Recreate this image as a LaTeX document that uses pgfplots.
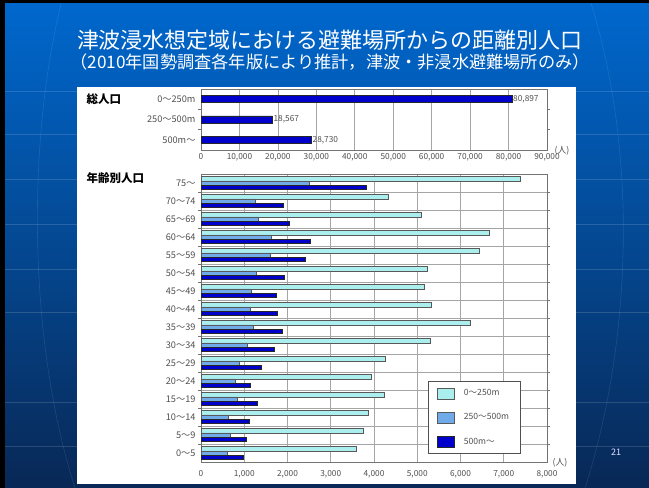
\documentclass[border=0pt]{standalone}
\usepackage{fontspec}
\usepackage{pgfplots}
\pgfplotsset{compat=1.18}
\usepackage{pgfplotstable}
\newfontfamily\jp{Noto Sans CJK JP}

\definecolor{slidetop}{RGB}{0,104,206}
\definecolor{slidebot}{RGB}{8,40,86}
\definecolor{near}{RGB}{170,238,238}
\definecolor{mid}{RGB}{112,170,232}
\definecolor{far}{RGB}{0,0,205}
\definecolor{gridgray}{RGB}{165,165,165}
\definecolor{framegray}{RGB}{115,115,115}
\definecolor{labelgray}{RGB}{80,80,80}

% population by age band and distance to the nearest shelter
\pgfplotstableread{
idx near mid far
0  3592  609  979
1  3753  671 1056
2  3861  632 1118
3  4231  848 1310
4  3931  802 1133
5  4254  887 1387
6  5303 1079 1696
7  6220 1218 1881
8  5318 1133 1773
9  5164 1156 1749
10 5225 1287 1919
11 6435 1595 2413
12 6667 1634 2536
13 5087 1326 2035
14 4331 1264 1904
15 7376 2505 3815
}\agedata

\pgfplotsset{
  swatch/.style={legend image code/.code={\draw[##1] (0pt,-5.5pt) rectangle (17pt,5.5pt);}},
  panel/.style={
    scale only axis, width=346pt, xmin=0,
    axis line style={framegray, line width=0.8pt},
    xmajorgrids,
    major grid style={gridgray, line width=0.6pt},
    minor grid style={gridgray, line width=0.6pt},
    major tick length=0pt, minor tick length=3pt, tick align=outside,
    minor tick style={framegray, line width=0.6pt},
    scaled x ticks=false,
    xticklabel style={font=\jp\fontsize{8.3}{9}\selectfont, text=labelgray},
    yticklabel style={font=\jp\fontsize{9.2}{10}\selectfont, text=labelgray, xshift=-2pt},
    /pgf/number format/1000 sep={,},
    /pgf/number format/assume math mode=true,
  },
}

\begin{document}
\jp
\begin{tikzpicture}[x=1pt,y=1pt]
\useasboundingbox (0,0) rectangle (649,488);
% slide background
\shade[top color=slidetop, bottom color=slidebot] (0,0) rectangle (649,488);
\foreach \yy in {92,135,180,225,270,313,403,447}
  \draw[white, opacity=0.14, line width=1pt] (0,{488-\yy}) -- (649,{488-\yy});
\draw[white, opacity=0.10, line width=0.6pt] (62,488) .. controls (25,340) and (30,140) .. (75,0);
\draw[white, opacity=0.10, line width=0.6pt] (590,488) .. controls (640,330) and (630,140) .. (585,0);
\fill[black] (0,0) rectangle (5,488);
\fill[black] (0,485) rectangle (649,488);

% titles
\node[text=white, font=\jp\fontsize{22}{24}\selectfont] at (330,448) {津波浸水想定域における避難場所からの距離別人口};
\node[text=white, font=\jp\fontsize{17.2}{19}\selectfont] at (330,426) {（2010年国勢調査各年版により推計，津波・非浸水避難場所のみ）};

% chart panel
\fill[white] (77,4) rectangle (576,401);
\node[anchor=west, font=\jp\bfseries\fontsize{11.5}{13}\selectfont] at (83,389) {総人口};
\node[anchor=west, font=\jp\bfseries\fontsize{11.5}{13}\selectfont] at (83,310) {年齢別人口};

% totals by distance
\begin{axis}[panel, at={(201pt,338pt)}, anchor=south west, height=61pt,
  xmax=90000, xtick={0,10000,...,90000},
  ymin=-0.5, ymax=2.5,
  ytick={0,1,2}, yticklabels={500m〜,250〜500m,0〜250m},
  minor ytick={0.5,1.5},
  xbar, bar width=7pt,
  nodes near coords,
  nodes near coords style={font=\jp\fontsize{8.3}{9}\selectfont, text=labelgray, anchor=west, inner sep=1pt},
]
\addplot[fill=far, draw=black!85, line width=0.5pt] coordinates {(80897,2) (18567,1) (28730,0)};
\end{axis}
\node[anchor=west, font=\jp\fontsize{8.8}{10}\selectfont, text=labelgray] at (551,337.5) {(人)};

% population by age band
\begin{axis}[panel, at={(201pt,26pt)}, anchor=south west, height=288pt,
  xmax=8000, xtick={0,1000,...,8000},
  xticklabel style={yshift=-5pt},
  ymin=-0.5, ymax=15.5,
  ytick={0,...,15},
  yticklabels={0〜5,5〜9,10〜14,15〜19,20〜24,25〜29,30〜34,35〜39,40〜44,45〜49,50〜54,55〜59,60〜64,65〜69,70〜74,75〜},
  minor ytick={0.5,1.5,...,14.5}, yminorgrids,
  xbar, bar width=4.3pt,
  legend cell align=left,
  legend style={at={(0.656,0.281)}, anchor=north west,
    draw=framegray!70!black, line width=0.8pt, fill=white,
    font=\jp\fontsize{8.6}{10}\selectfont, text=labelgray,
    row sep=12.5pt, inner xsep=9pt, inner ysep=6pt,
    /tikz/every odd column/.append style={column sep=7pt}},
]
\addplot[swatch, fill=near, draw=black!65, line width=0.5pt, bar shift=4.3pt] table[x=near, y=idx] {\agedata};
\addplot[swatch, fill=mid, draw=black!65, line width=0.5pt, bar shift=0pt] table[x=mid, y=idx] {\agedata};
\addplot[swatch, fill=far, draw=black!85, line width=0.5pt, bar shift=-4.3pt] table[x=far, y=idx] {\agedata};
\legend{0〜250m,250〜500m,500m〜}
\end{axis}
\node[anchor=west, font=\jp\fontsize{8.8}{10}\selectfont, text=labelgray] at (549,25) {(人)};

% slide number
\node[text=white!88!blue, font=\jp\fontsize{9}{10}\selectfont] at (616,36) {21};
\end{tikzpicture}
\end{document}
